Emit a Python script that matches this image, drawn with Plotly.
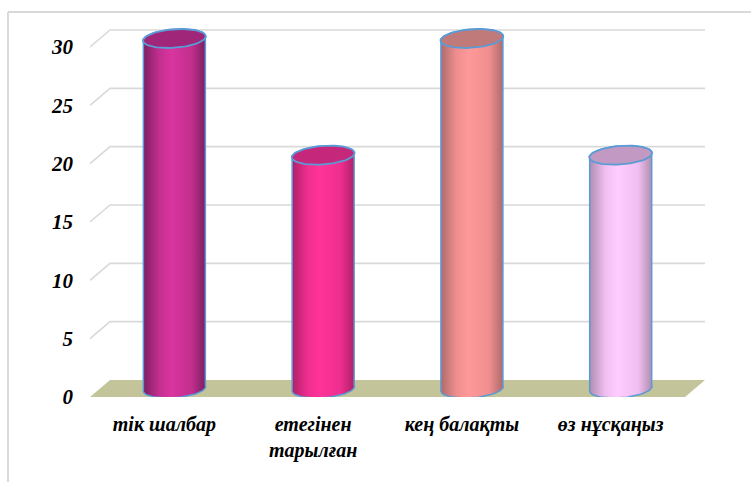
import numpy as np
import plotly.graph_objects as go

categories = ["тік шалбар", "етегінен<br>тарылған", "кең балақты", "өз нұсқаңыз"]
values = [30, 20, 30, 20]
y_ticks = [0, 5, 10, 15, 20, 25, 30]
face_mid = ["#D9359F", "#FF3399", "#FF9999", "#FFCCFF"]
top_colors = ["#A0267A", "#C5277B", "#C07A7A", "#C299C2"]
edge_colors = ["#7A1F60", "#AE2068", "#AE6A6A", "#AE8CAE"]
soft_colors = ["#C22E8E", "#EE2E8E", "#EE8E8E", "#F0BEF0"]
outline = "#5B9BD5"
grid = "#D9D9D9"
floor = "#C4C49A"

W, H = 751, 482
L, R, T, B = 90, 46, 20, 85
xr = (-0.5, 3.634)
px_per_unit_y = 350 / 30
yr = (0, (H - T - B) / px_per_unit_y)
px_per_unit_x = (W - L - R) / (xr[1] - xr[0])
depth_x = 20 / px_per_unit_x
depth_y = 17 / px_per_unit_y


def ell(cx, cy, t):
    a = (31.0 / px_per_unit_x, 3.6 / px_per_unit_y)
    b = (-5.0 / px_per_unit_x, 8.8 / px_per_unit_y)
    return cx + a[0] * np.cos(t) + b[0] * np.sin(t), cy + a[1] * np.cos(t) + b[1] * np.sin(t)


fig = go.Figure()

# floor
fx = [xr[0], 3.5, 3.5 + depth_x, xr[0] + depth_x, xr[0]]
fy = [0, 0, depth_y, depth_y, 0]
fig.add_trace(go.Scatter(x=fx, y=fy, fill="toself", fillcolor=floor, mode="lines",
                         line=dict(width=0), hoverinfo="skip", showlegend=False))

# walls' grid lines
for v in y_ticks[1:]:
    fig.add_trace(go.Scatter(x=[xr[0], xr[0] + depth_x, 3.5 + depth_x],
                             y=[v, v + depth_y, v + depth_y], mode="lines",
                             line=dict(color=grid, width=1.6), hoverinfo="skip", showlegend=False))

# cylinders
for i, v in enumerate(values):
    cx = i + depth_x / 2
    cy = depth_y / 2
    t_bot = np.linspace(np.pi, 2 * np.pi, 40)
    t_top = np.linspace(0, np.pi, 40)
    bx, by = ell(cx, cy, t_bot)
    tx, ty = ell(cx, cy + v, t_top)
    xs = np.concatenate([bx, tx, bx[:1]])
    ys = np.concatenate([by, ty, by[:1]])
    fig.add_trace(go.Scatter(
        x=xs, y=ys, fill="toself", mode="lines",
        line=dict(color=outline, width=1.5),
        fillgradient=dict(type="horizontal", colorscale=[
            [0, edge_colors[i]], [0.25, soft_colors[i]], [0.45, face_mid[i]],
            [0.78, soft_colors[i]], [1, edge_colors[i]]]),
        hoverinfo="skip", showlegend=False))
    t = np.linspace(0, 2 * np.pi, 80)
    ex, ey = ell(cx, cy + v, t)
    fig.add_trace(go.Scatter(x=ex, y=ey, fill="toself", fillcolor=top_colors[i], mode="lines",
                             line=dict(color=outline, width=1.8), hoverinfo="skip", showlegend=False))

font = dict(family="Liberation Serif", size=20, color="black", weight="bold", style="italic")
fig.update_layout(
    width=W, height=H, autosize=False,
    margin=dict(l=L, r=R, t=T, b=B),
    paper_bgcolor="white", plot_bgcolor="white",
    showlegend=False,
    xaxis=dict(range=xr, tickmode="array", tickvals=list(range(len(categories))), ticktext=categories,
               showgrid=False, zeroline=False, showline=False, ticks="", tickfont=font,
               ticklabelstandoff=13, fixedrange=True),
    yaxis=dict(range=yr, tickmode="array", tickvals=y_ticks, ticktext=[str(v) for v in y_ticks],
               showgrid=False, zeroline=False, showline=False, ticks="", tickfont=dict(font, size=21),
               ticklabelstandoff=16, fixedrange=True),
    shapes=[
        dict(type="line", xref="paper", yref="paper", layer="below",
             x0=(8 - L) / (W - L - R), x1=(8 - L) / (W - L - R),
             y0=(H - B - 12) / (H - T - B), y1=(H - B - H) / (H - T - B),
             line=dict(color=grid, width=2)),
        dict(type="line", xref="paper", yref="paper", layer="below",
             x0=(8 - L) / (W - L - R), x1=(W - L) / (W - L - R),
             y0=(H - B - 12) / (H - T - B), y1=(H - B - 12) / (H - T - B),
             line=dict(color=grid, width=2)),
    ],
)
fig.write_html("out.html", config=dict(displayModeBar=False),
               post_script="document.body.style.margin='0';document.documentElement.style.overflow='hidden';")
